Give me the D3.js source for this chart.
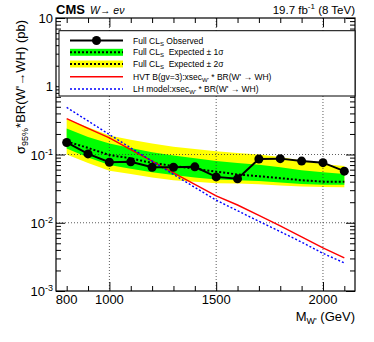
<!DOCTYPE html>
<html>
<head>
<meta charset="utf-8">
<script src="https://cdn.jsdelivr.net/npm/d3@7"></script>
<style>
  body { margin: 0; background: #fff; }
  text { font-family: "Liberation Sans", Arial, Helvetica, sans-serif; }
</style>
</head>
<body>
<script>
var width = 374,
  height = 342,
  plotLeft = 56,
  plotRight = 355,
  plotTop = 18,
  plotBottom = 291;

// W' mass points (GeV)
var masses = [800, 900, 1000, 1100, 1200, 1300, 1400, 1500, 1600, 1700, 1800, 1900, 2000, 2100];
// limits (pb)
var observed = [0.150, 0.102, 0.077, 0.078, 0.065, 0.065, 0.066, 0.047, 0.044, 0.086, 0.087, 0.080, 0.076, 0.057];
var expected = [0.155, 0.125, 0.098, 0.088, 0.075, 0.068, 0.062, 0.056, 0.051, 0.048, 0.045, 0.042, 0.040, 0.040];
var plus2 = [0.33, 0.25, 0.19, 0.165, 0.145, 0.13, 0.12, 0.112, 0.105, 0.10, 0.092, 0.082, 0.072, 0.068];
var plus1 = [0.24, 0.18, 0.145, 0.125, 0.108, 0.097, 0.088, 0.080, 0.075, 0.071, 0.065, 0.059, 0.055, 0.052];
var minus1 = [0.122, 0.090, 0.070, 0.062, 0.055, 0.050, 0.046, 0.043, 0.042, 0.041, 0.039, 0.037, 0.036, 0.036];
var minus2 = [0.100, 0.075, 0.058, 0.052, 0.046, 0.042, 0.040, 0.038, 0.0375, 0.0365, 0.035, 0.034, 0.0335, 0.033];
// model cross sections
var hvt = [0.335, 0.242, 0.175, 0.118, 0.080, 0.054, 0.0365, 0.0247, 0.0182, 0.0128, 0.0090, 0.0062, 0.00427, 0.00305];
var lhModel = [0.49, 0.31, 0.196, 0.125, 0.080, 0.051, 0.033, 0.0214, 0.0150, 0.0105, 0.0074, 0.0052, 0.00356, 0.00258];

var xLabels = [800, 1000, 1500, 2000];
var xMajor = [1000, 1500, 2000];
var xMinor = d3.range(800, 2101, 100).filter((d) => xMajor.indexOf(d) < 0);
var yDecades = [1e-3, 1e-2, 1e-1, 1, 10];
var yExp = [-3, -2, -1, 0, 1];

var svg = d3
  .select("body")
  .append("svg")
  .attr("width", width)
  .attr("height", height);

var xScale = d3.scaleLinear().domain([750, 2150]).range([plotLeft, plotRight]);
var yScale = d3.scaleLog().domain([1e-3, 10]).range([plotBottom, plotTop]);

var yMinor = [];
yDecades.slice(0, 4).forEach((d) => {
  for (let k = 2; k <= 9; k++) yMinor.push(d * k);
});

var idx = masses.map((m, i) => i);

// bands
var band = (lo, hi) =>
  d3
    .area()
    .x((i) => xScale(masses[i]))
    .y0((i) => yScale(lo[i]))
    .y1((i) => yScale(hi[i]));

svg.append("path").attr("d", band(minus2, plus2)(idx)).attr("fill", "#ffff00");
svg.append("path").attr("d", band(minus1, plus1)(idx)).attr("fill", "#00ff00");

// grid
var grid = svg.append("g").attr("stroke", "#333").attr("stroke-width", 0.8).attr("stroke-dasharray", "1,2");
xMajor.forEach((m) => {
  grid.append("line").attr("x1", xScale(m)).attr("x2", xScale(m)).attr("y1", plotTop).attr("y2", plotBottom);
});
[1e-2, 1e-1, 1].forEach((v) => {
  grid.append("line").attr("x1", plotLeft).attr("x2", plotRight).attr("y1", yScale(v)).attr("y2", yScale(v));
});

var line = (vals) =>
  d3
    .line()
    .x((i) => xScale(masses[i]))
    .y((i) => yScale(vals[i]))(idx);

svg.append("path").attr("d", line(expected)).attr("fill", "none")
  .attr("stroke", "#000").attr("stroke-width", 2).attr("stroke-dasharray", "2,2");
svg.append("path").attr("d", line(hvt)).attr("fill", "none")
  .attr("stroke", "#ff0000").attr("stroke-width", 1.4);
svg.append("path").attr("d", line(lhModel)).attr("fill", "none")
  .attr("stroke", "#0000ff").attr("stroke-width", 1.4).attr("stroke-dasharray", "2,2");
svg.append("path").attr("d", line(observed)).attr("fill", "none")
  .attr("stroke", "#000").attr("stroke-width", 2);
svg
  .selectAll("circle.obs")
  .data(idx)
  .enter()
  .append("circle")
  .attr("class", "obs")
  .attr("cx", (i) => xScale(masses[i]))
  .attr("cy", (i) => yScale(observed[i]))
  .attr("r", 4.5)
  .attr("fill", "#000");

// axes (ticks only, labels drawn separately)
var tickAxis = (axis, size, vals, transform) =>
  svg
    .append("g")
    .attr("transform", transform)
    .call(axis.tickValues(vals).tickSizeInner(size).tickSizeOuter(0).tickFormat(""))
    .call((g) => g.select(".domain").remove())
    .call((g) => g.selectAll("line").attr("stroke", "#000").attr("stroke-width", 1));

tickAxis(d3.axisBottom(xScale), -9, xMajor, `translate(0,${plotBottom})`);
tickAxis(d3.axisBottom(xScale), -5, xMinor, `translate(0,${plotBottom})`);
tickAxis(d3.axisTop(xScale), -9, xMajor, `translate(0,${plotTop})`);
tickAxis(d3.axisTop(xScale), -5, xMinor, `translate(0,${plotTop})`);
tickAxis(d3.axisLeft(yScale), -9, yDecades, `translate(${plotLeft},0)`);
tickAxis(d3.axisLeft(yScale), -5, yMinor, `translate(${plotLeft},0)`);
tickAxis(d3.axisRight(yScale), -9, yDecades, `translate(${plotRight},0)`);
tickAxis(d3.axisRight(yScale), -5, yMinor, `translate(${plotRight},0)`);

// frame
svg.append("rect").attr("x", plotLeft).attr("y", plotTop)
  .attr("width", plotRight - plotLeft).attr("height", plotBottom - plotTop)
  .attr("fill", "none").attr("stroke", "#000").attr("stroke-width", 1.2);

// tick labels
svg
  .selectAll("text.xl")
  .data(xLabels)
  .enter()
  .append("text")
  .attr("class", "xl")
  .attr("x", (d) => xScale(d))
  .attr("y", 304)
  .attr("text-anchor", "middle")
  .attr("font-size", 13)
  .text((d) => d);

yDecades.forEach((d, i) => {
  var t = svg.append("text").attr("x", 53).attr("y", yScale(d) + 5)
    .attr("text-anchor", "end").attr("font-size", 13);
  if (yExp[i] === 0) t.text("1");
  else if (yExp[i] === 1) t.text("10");
  else {
    t.append("tspan").text("10");
    t.append("tspan").attr("font-size", 9).attr("dy", -5).text(yExp[i]);
  }
});

// axis titles
var xt = svg.append("text").attr("x", plotRight).attr("y", 321).attr("text-anchor", "end").attr("font-size", 13);
xt.append("tspan").text("M");
xt.append("tspan").attr("font-size", 9).attr("dy", 3).text("W'");
xt.append("tspan").attr("dy", -3).text(" (GeV)");

var yt = svg.append("text").attr("transform", "translate(25,20) rotate(-90)")
  .attr("text-anchor", "end").attr("font-size", 13);
yt.append("tspan").text("σ");
yt.append("tspan").attr("font-size", 9).attr("dy", 3).text("95%");
yt.append("tspan").attr("dy", -3).text("*BR(W'→WH) (pb)");

// header
svg.append("text").attr("x", plotLeft).attr("y", 14).attr("font-size", 13).attr("font-weight", "bold").text("CMS");
svg.append("text").attr("x", 90).attr("y", 14).attr("font-size", 10.5).attr("font-style", "italic").text("W→ eν");
var lumi = svg.append("text").attr("x", plotRight).attr("y", 14).attr("text-anchor", "end").attr("font-size", 11.5);
lumi.append("tspan").text("19.7 fb");
lumi.append("tspan").attr("font-size", 8).attr("dy", -5).text("-1");
lumi.append("tspan").attr("dy", 5).text(" (8 TeV)");

// legend
var legend = svg.append("g");
legend.append("rect").attr("x", 59).attr("y", 30.7).attr("width", plotRight - 59).attr("height", 65.3)
  .attr("fill", "#fff").attr("stroke", "#000").attr("stroke-width", 1);

var legendRows = [40.5, 52.3, 64, 76.8, 89];
var lx0 = 70, lx1 = 123, ltx = 133;

legend.append("line").attr("x1", lx0).attr("x2", lx1).attr("y1", legendRows[0]).attr("y2", legendRows[0])
  .attr("stroke", "#000").attr("stroke-width", 2);
legend.append("circle").attr("cx", (lx0 + lx1) / 2).attr("cy", legendRows[0]).attr("r", 4.5).attr("fill", "#000");

[["#00ff00", 1], ["#ffff00", 2]].forEach((b) => {
  var yy = legendRows[b[1]];
  legend.append("rect").attr("x", lx0).attr("y", yy - 3.5).attr("width", lx1 - lx0).attr("height", 7).attr("fill", b[0]);
  legend.append("line").attr("x1", lx0).attr("x2", lx1).attr("y1", yy).attr("y2", yy)
    .attr("stroke", "#000").attr("stroke-width", 2).attr("stroke-dasharray", "2,2");
});
legend.append("line").attr("x1", lx0).attr("x2", lx1).attr("y1", legendRows[3]).attr("y2", legendRows[3])
  .attr("stroke", "#ff0000").attr("stroke-width", 1.4);
legend.append("line").attr("x1", lx0).attr("x2", lx1).attr("y1", legendRows[4]).attr("y2", legendRows[4])
  .attr("stroke", "#0000ff").attr("stroke-width", 1.4).attr("stroke-dasharray", "2,2");

var legendText = [
  [["Full CL", 0], ["S", 1], [" Observed", 0]],
  [["Full CL", 0], ["S", 1], ["  Expected ± 1σ", 0]],
  [["Full CL", 0], ["S", 1], ["  Expected ± 2σ", 0]],
  [["HVT B(gv=3):xsec", 0], ["W'", 1], [" * BR(W' → WH)", 0]],
  [["LH model:xsec", 0], ["W'", 1], [" * BR(W' → WH)", 0]]
];
legendText.forEach((parts, r) => {
  var t = legend.append("text").attr("x", ltx).attr("y", legendRows[r] + 3).attr("font-size", 8.5)
    .attr("xml:space", "preserve");
  var sub = 0;
  parts.forEach((p) => {
    var s = t.append("tspan").text(p[0]);
    if (p[1] && !sub) { s.attr("font-size", 6).attr("dy", 2); sub = 1; }
    else if (!p[1] && sub) { s.attr("dy", -2); sub = 0; }
  });
});
</script>
</body>
</html>
